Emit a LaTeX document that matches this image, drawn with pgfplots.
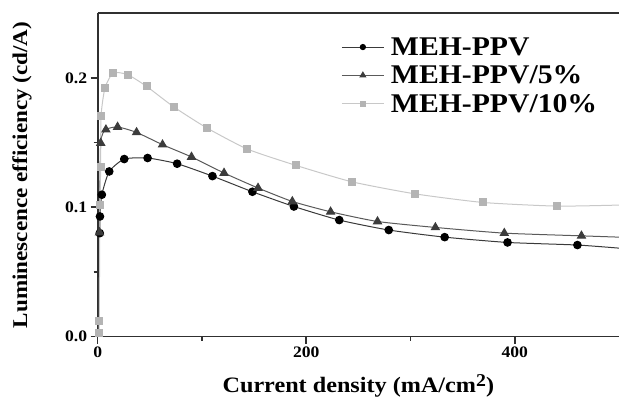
\documentclass[border=0pt]{standalone}
\usepackage{fontspec}
\setmainfont[FakeStretch=1.1]{Liberation Serif}
\usepackage{pgfplots}
\pgfplotsset{compat=1.18}

\definecolor{cA}{HTML}{000000}
\definecolor{cAline}{HTML}{3A3A3A}
\definecolor{cB}{HTML}{3C3C3C}
\definecolor{cBline}{HTML}{5A5A5A}
\definecolor{cC}{HTML}{B4B4B4}
\definecolor{cCline}{HTML}{C8C8C8}
\definecolor{axiscol}{HTML}{303030}

\begin{document}
\begin{tikzpicture}
\begin{axis}[
  at={(0,0)}, anchor=south west,
  scale only axis, width=521.5pt, height=323.4pt,
  xmin=0, xmax=500, ymin=0, ymax=0.25,
  clip=false,
  axis x line*=bottom, axis y line*=left,
  axis line style={line width=1.8pt, color=axiscol, -},
  xtick={0,200,400}, minor xtick={100,300},
  ytick={0,0.1,0.2}, minor ytick={0.05,0.15},
  tick align=outside,
  major tick length=7pt, minor tick length=4pt,
  every tick/.style={line width=1.6pt, color=axiscol},
  /pgf/number format/assume math mode=true,
  yticklabel style={/pgf/number format/.cd, fixed, fixed zerofill, precision=1},
  tick label style={font=\bfseries\fontsize{16}{16}\selectfont, color=black},
  xlabel={Current density (mA/cm\raisebox{0.55ex}{\fontsize{18}{18}\selectfont 2})},
  ylabel={Luminescence efficiency (cd/A)},
  xlabel style={font=\bfseries\fontsize{22}{22}\selectfont,
    at={(axis description cs:0.5,0)}, anchor=north, yshift=-38pt, inner sep=0pt},
  ylabel style={font=\bfseries\fontsize{21}{21}\selectfont,
    at={(axis description cs:-0.126,0.5)}, anchor=south, rotate=0, inner sep=0pt},
  legend cell align=left,
  legend style={at={(axis description cs:0.467,0.932)}, anchor=north west,
    draw=none, fill=none, font=\bfseries\fontsize{27}{27}\selectfont,
    row sep=5pt, inner sep=0pt},
  legend image code/.code={
    \draw[mark repeat=2, mark phase=2, #1]
      plot coordinates {(0cm,0cm) (0.74cm,0cm) (1.48cm,0cm)};
    \path (1.64cm,0cm);
  },
]
% MEH-PPV
\addplot[cAline, line width=1pt, smooth, tension=0.35, forget plot] coordinates {
  (2.0,0.0800) (2.2,0.0929) (4.0,0.1097) (11.1,0.1277) (25.5,0.1373)
  (47.9,0.1381) (76.2,0.1337) (110.1,0.1241) (148.4,0.1120) (188.2,0.1006)
  (231.7,0.0901) (279.2,0.0824) (332.8,0.0769) (393.1,0.0728) (460.1,0.0708)
  (500,0.0684)};
\addplot[cAline, line width=1pt, only marks, mark=*, mark size=3.8pt,
  mark options={fill=cA, draw=cA},
  legend image post style={mark size=2.6pt, sharp plot}] coordinates {
  (2.0,0.0800) (2.2,0.0929) (4.0,0.1097) (11.1,0.1277) (25.5,0.1373)
  (47.9,0.1381) (76.2,0.1337) (110.1,0.1241) (148.4,0.1120) (188.2,0.1006)
  (231.7,0.0901) (279.2,0.0824) (332.8,0.0769) (393.1,0.0728) (460.1,0.0708)};
\addlegendentry{MEH-PPV}

% MEH-PPV/5%
\addplot[cBline, line width=1pt, smooth, tension=0.35, forget plot] coordinates {
  (1.8,0.0805) (2.9,0.1497) (7.9,0.1600) (19.1,0.1621) (37.3,0.1579)
  (62.2,0.1484) (90.0,0.1389) (121.2,0.1265) (153.8,0.1149) (186.7,0.1045)
  (223.4,0.0965) (268.4,0.0890) (323.9,0.0844) (390.0,0.0800) (464.0,0.0779)
  (500,0.0769)};
\addplot[cBline, line width=1pt, only marks, mark=triangle*, mark size=4.6pt,
  mark options={fill=cB, draw=cB},
  legend image post style={mark size=3.2pt, sharp plot}] coordinates {
  (1.8,0.0805) (2.9,0.1497) (7.9,0.1600) (19.1,0.1621) (37.3,0.1579)
  (62.2,0.1484) (90.0,0.1389) (121.2,0.1265) (153.8,0.1149) (186.7,0.1045)
  (223.4,0.0965) (268.4,0.0890) (323.9,0.0844) (390.0,0.0800) (464.0,0.0779)};
\addlegendentry{MEH-PPV/5\%}

% MEH-PPV/10%
\addplot[cCline, line width=1pt, smooth, tension=0.35, forget plot] coordinates {
  (1.2,0.0026) (1.5,0.0122) (2.2,0.1020) (2.9,0.1308) (3.2,0.1703)
  (7.0,0.1923) (14.9,0.2039) (28.7,0.2026) (46.9,0.1935) (73.0,0.1776)
  (104.4,0.1615) (143.6,0.1450) (190.1,0.1324) (243.8,0.1197) (304.1,0.1104)
  (369.8,0.1037) (440.4,0.1009) (500,0.1017)};
\addplot[cCline, line width=1pt, only marks, mark=square*, mark size=3.5pt,
  mark options={fill=cC, draw=cC},
  legend image post style={mark size=2.8pt, sharp plot}] coordinates {
  (1.2,0.0026) (1.5,0.0122) (2.2,0.1020) (2.9,0.1308) (3.2,0.1703)
  (7.0,0.1923) (14.9,0.2039) (28.7,0.2026) (46.9,0.1935) (73.0,0.1776)
  (104.4,0.1615) (143.6,0.1450) (190.1,0.1324) (243.8,0.1197) (304.1,0.1104)
  (369.8,0.1037) (440.4,0.1009)};
\addlegendentry{MEH-PPV/10\%}

% upper frame line
\draw[line width=1.8pt, axiscol] (rel axis cs:0,1) -- (rel axis cs:1,1);
\end{axis}
\pgfresetboundingbox
\useasboundingbox (-97.7pt,-67.3pt) rectangle (521.5pt,336.7pt);
\end{tikzpicture}
\end{document}
